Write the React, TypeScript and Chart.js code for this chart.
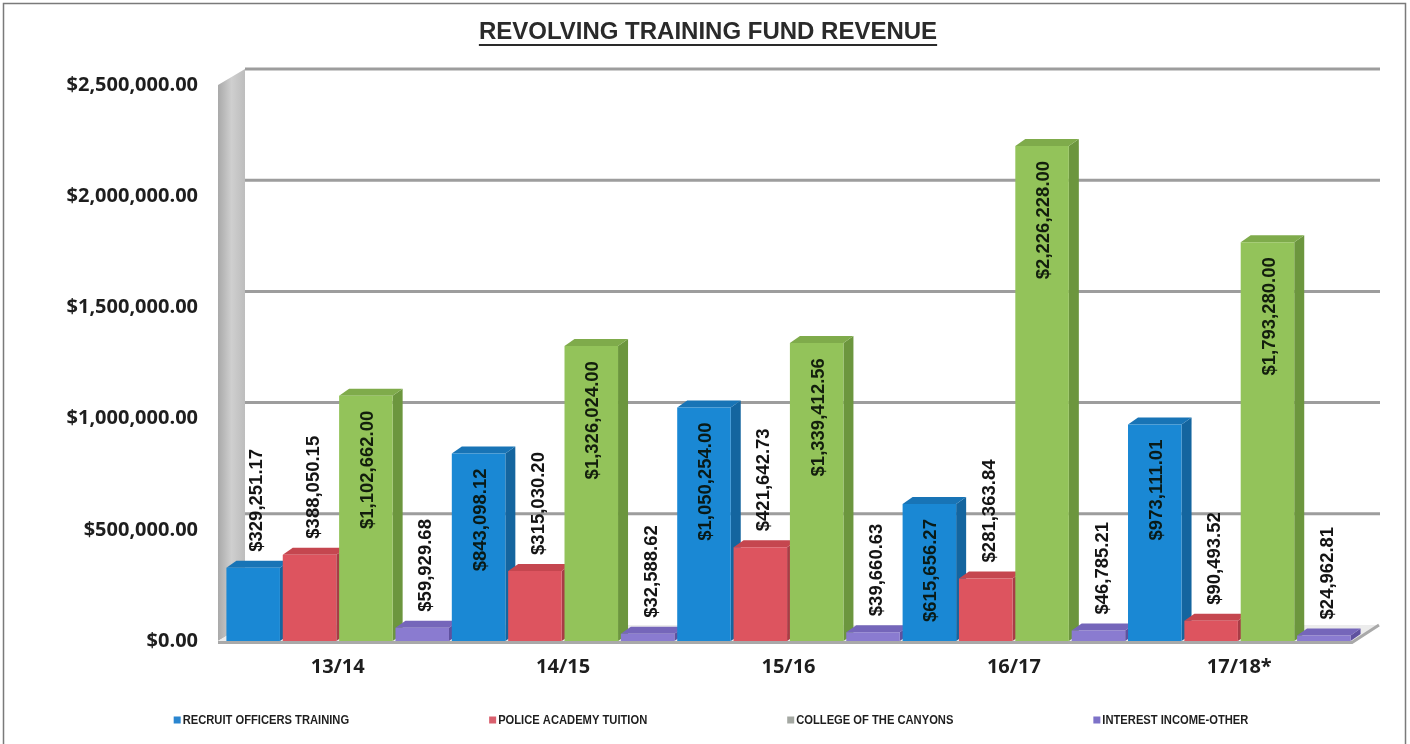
import React, { useEffect, useRef } from 'react';
import { Chart, registerables } from 'chart.js';

Chart.register(...registerables);

const categories = ['13/14', '14/15', '15/16', '16/17', '17/18*'];
const recruitOfficersTraining = [329251.17, 843098.12, 1050254.0, 615656.27, 973111.01];
const policeAcademyTuition = [388050.15, 315030.2, 421642.73, 281363.84, 90493.52];
const collegeOfTheCanyons = [1102662.0, 1326024.0, 1339412.56, 2226228.0, 1793280.0];
const interestIncomeOther = [59929.68, 32588.62, 39660.63, 46785.21, 24962.81];
const seriesNames = ['RECRUIT OFFICERS TRAINING', 'POLICE ACADEMY TUITION', 'COLLEGE OF THE CANYONS', 'INTEREST INCOME-OTHER'];
const yTickValues = [0, 500000, 1000000, 1500000, 2000000, 2500000];
const titleText = 'REVOLVING TRAINING FUND REVENUE';

const frontColors = ['#1a88d4', '#dd545f', '#93c35a', '#8a7bd0'];
const sideColors = ['#14659f', '#a83c46', '#6c963e', '#5f519f'];
const topColors = ['#1874b6', '#c5464f', '#7fab4b', '#7566ba'];
const legendColors = ['#2a86d0', '#d9606e', '#a4a8a2', '#7d72c8'];

const fmt = (v: number) =>
  '$' + v.toLocaleString('en-US', { minimumFractionDigits: 2, maximumFractionDigits: 2 });

const DX = 10;
const DY = 7;
const BACK_DX = 27;
const BACK_DY = -16;

const backdropPlugin = {
  id: 'backdrop3d',
  beforeDatasetsDraw(chart: any) {
    const { ctx, chartArea } = chart;
    const y = chart.scales.y;
    const L = chartArea.left;
    const R = chartArea.right;
    const B = chartArea.bottom;
    ctx.save();
    const wallFront = L - 7;
    const g = ctx.createLinearGradient(wallFront, 0, L + BACK_DX - 7, 0);
    g.addColorStop(0, '#a9a9a9');
    g.addColorStop(0.5, '#cfcfcf');
    g.addColorStop(1, '#bdbdbd');
    ctx.fillStyle = g;
    ctx.beginPath();
    ctx.moveTo(wallFront, y.getPixelForValue(2500000));
    ctx.lineTo(wallFront + BACK_DX, y.getPixelForValue(2500000) + BACK_DY);
    ctx.lineTo(wallFront + BACK_DX, B + BACK_DY);
    ctx.lineTo(wallFront, B);
    ctx.closePath();
    ctx.fill();
    ctx.fillStyle = '#ececec';
    ctx.beginPath();
    ctx.moveTo(wallFront, B);
    ctx.lineTo(R, B);
    ctx.lineTo(R + BACK_DX, B + BACK_DY);
    ctx.lineTo(wallFront + BACK_DX, B + BACK_DY);
    ctx.closePath();
    ctx.fill();
    ctx.strokeStyle = '#9d9d9d';
    ctx.lineWidth = 3;
    yTickValues.forEach((v) => {
      if (v === 0) return;
      const py = y.getPixelForValue(v) + BACK_DY;
      ctx.beginPath();
      ctx.moveTo(wallFront + BACK_DX, py);
      ctx.lineTo(R + BACK_DX + 1, py);
      ctx.stroke();
    });
    ctx.strokeStyle = '#a9a9a9';
    ctx.lineWidth = 3;
    ctx.beginPath();
    ctx.moveTo(wallFront, B + 1.5);
    ctx.lineTo(R, B + 1.5);
    ctx.lineTo(R + BACK_DX, B + BACK_DY);
    ctx.stroke();

    chart.data.datasets.forEach((ds: any, di: number) => {
      const meta = chart.getDatasetMeta(di);
      meta.data.forEach((bar: any) => {
        const half = bar.width / 2;
        const x0 = bar.x - half;
        const x1 = bar.x + half;
        const top = bar.y;
        const base = bar.base;
        ctx.fillStyle = sideColors[di];
        ctx.beginPath();
        ctx.moveTo(x1, top);
        ctx.lineTo(x1 + DX, top - DY);
        ctx.lineTo(x1 + DX, base - DY);
        ctx.lineTo(x1, base);
        ctx.closePath();
        ctx.fill();
        ctx.fillStyle = topColors[di];
        ctx.beginPath();
        ctx.moveTo(x0, top);
        ctx.lineTo(x0 + DX, top - DY);
        ctx.lineTo(x1 + DX, top - DY);
        ctx.lineTo(x1, top);
        ctx.closePath();
        ctx.fill();
      });
    });
    ctx.restore();
  },
};

const labelPlugin = {
  id: 'rotatedLabels',
  afterDatasetsDraw(chart: any) {
    const { ctx } = chart;
    ctx.save();
    ctx.font = 'bold 18.5px "Liberation Sans", Arial, sans-serif';
    ctx.textBaseline = 'middle';
    chart.data.datasets.forEach((ds: any, di: number) => {
      const meta = chart.getDatasetMeta(di);
      meta.data.forEach((bar: any, i: number) => {
        const v = ds.data[i] as number;
        const text = fmt(v);
        const inside = v > 600000;
        ctx.save();
        if (inside) {
          ctx.translate(bar.x + 2, bar.y + 15);
          ctx.rotate(-Math.PI / 2);
          ctx.textAlign = 'right';
          ctx.fillStyle = 'rgba(8,16,6,0.92)';
        } else {
          ctx.translate(bar.x + 4, bar.y - 16);
          ctx.rotate(-Math.PI / 2);
          ctx.textAlign = 'left';
          ctx.fillStyle = '#141414';
        }
        ctx.fillText(text, 0, 0);
        ctx.restore();
      });
    });
    ctx.restore();
  },
};

const decorPlugin = {
  id: 'decor',
  afterDraw(chart: any) {
    const { ctx, width } = chart;
    ctx.save();
    // title with underline
    const cx = 708;
    ctx.font = 'bold 24px "Liberation Sans", Arial, sans-serif';
    ctx.textAlign = 'center';
    ctx.textBaseline = 'middle';
    ctx.fillStyle = '#2a2a2a';
    ctx.fillText(titleText, cx, 32);
    const tw = ctx.measureText(titleText).width;
    ctx.fillRect(cx - tw / 2, 44, tw, 2);
    // legend (condensed)
    const sx = 0.86;
    ctx.font = 'bold 13px "Liberation Sans", Arial, sans-serif';
    ctx.textBaseline = 'middle';
    ctx.textAlign = 'left';
    const box = 7;
    const gapText = 2;
    const gapItem = 140;
    const widths = seriesNames.map((n) => box + gapText + ctx.measureText(n).width * sx);
    const total = widths.reduce((a, b) => a + b, 0) + gapItem * (seriesNames.length - 1);
    let x = width / 2 + 6 - total / 2;
    const ly = 720;
    seriesNames.forEach((n, i) => {
      ctx.fillStyle = legendColors[i];
      ctx.fillRect(x, ly - 3.5, box, box);
      ctx.save();
      ctx.translate(x + box + gapText, ly + 0.5);
      ctx.scale(sx, 1);
      ctx.fillStyle = '#1e1e1e';
      ctx.fillText(n, 0, 0);
      ctx.restore();
      x += widths[i] + gapItem;
    });
    // frame
    ctx.strokeStyle = '#7a7a7a';
    ctx.lineWidth = 1.5;
    ctx.beginPath();
    ctx.moveTo(3.5, 760);
    ctx.lineTo(3.5, 3.5);
    ctx.lineTo(1405.5, 3.5);
    ctx.lineTo(1405.5, 760);
    ctx.stroke();
    ctx.restore();
  },
};

export default function App() {
  const canvasRef = useRef<HTMLCanvasElement | null>(null);

  useEffect(() => {
    if (!canvasRef.current) return;
    const datasetsSrc = [recruitOfficersTraining, policeAcademyTuition, collegeOfTheCanyons, interestIncomeOther];
    const chart = new Chart(canvasRef.current, {
      type: 'bar',
      data: {
        labels: categories,
        datasets: datasetsSrc.map((d, i) => ({
          label: seriesNames[i],
          data: d,
          backgroundColor: frontColors[i],
          borderWidth: 0,
          barPercentage: 0.95,
          categoryPercentage: 1.0,
        })),
      },
      options: {
        responsive: true,
        maintainAspectRatio: false,
        animation: false,
        layout: { padding: { left: 0, right: 58, top: 85, bottom: 0 } },
        plugins: {
          legend: { display: false },
          tooltip: { enabled: false },
          title: { display: false },
        },
        scales: {
          x: {
            grid: { display: false, drawTicks: false },
            border: { display: false },
            ticks: {
              padding: 14,
              color: '#1e1e1e',
              font: { family: '"Open Sans", sans-serif', size: 20, weight: 'bold' },
            },
            afterFit(scale: any) {
              scale.height = 103;
            },
          },
          y: {
            min: 0,
            max: 2500000,
            grid: { display: false, drawTicks: false },
            border: { display: false },
            afterBuildTicks(scale: any) {
              scale.ticks = yTickValues.map((v) => ({ value: v }));
            },
            afterFit(scale: any) {
              scale.width = 225;
            },
            ticks: {
              padding: 27,
              color: '#1e1e1e',
              font: { family: '"Open Sans", sans-serif', size: 20, weight: 'bold' },
              callback: (v: any) => fmt(Number(v)),
            },
          },
        },
      },
      plugins: [backdropPlugin, labelPlugin, decorPlugin],
    });
    return () => chart.destroy();
  }, []);

  return (
    <div style={{ width: 1410, height: 744, position: 'relative', background: '#ffffff' }}>
      <style>{`body{margin:0;background:#fff}`}</style>
      <canvas ref={canvasRef} />
    </div>
  );
}
